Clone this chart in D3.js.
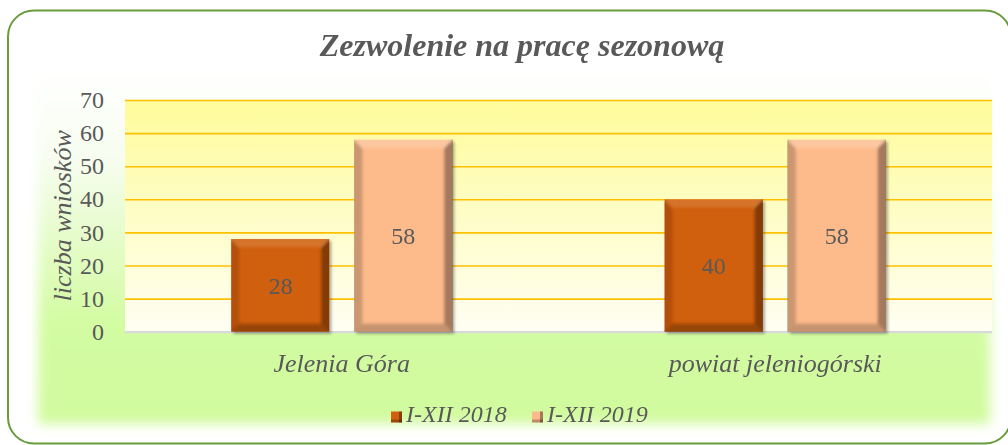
<!DOCTYPE html>
<html><head><meta charset="utf-8">
<script src="https://cdn.jsdelivr.net/npm/d3@7/dist/d3.min.js"></script>
<style>
html,body{margin:0;padding:0;background:#fff;}
svg{display:block;}
svg text{font-family:"Liberation Serif","Times New Roman","DejaVu Serif",serif !important;fill:#595959;}
</style></head>
<body>
<svg id="chart" width="1008" height="445" font-family="Liberation Serif, Times New Roman, DejaVu Serif, serif"></svg>
<script>
const categories = ["Jelenia Góra", "powiat jeleniogórski"];
const seriesNames = ["I-XII 2018", "I-XII 2019"];
const values2018 = [28, 40];
const values2019 = [58, 58];
const yTicks = [0, 10, 20, 30, 40, 50, 60, 70];
const title = "Zezwolenie na pracę sezonową";
const yTitle = "liczba wniosków";

const series = [values2018, values2019];
const barColors = ["#d0600f", "#fdbb8b"];
const FONT = "'Liberation Serif', 'Times New Roman', 'DejaVu Serif', serif";

const plot = {left: 125, right: 992, top: 100, bottom: 331.7};
const svg = d3.select("#chart");
const defs = svg.append("defs");

const gPlot = defs.append("linearGradient").attr("id","gPlot").attr("x1",0).attr("y1",0).attr("x2",0).attr("y2",1);
gPlot.append("stop").attr("offset","0%").attr("stop-color","#fefc9a");
gPlot.append("stop").attr("offset","100%").attr("stop-color","#fffef3");

const gArea = defs.append("linearGradient").attr("id","gArea").attr("x1",0).attr("y1",0).attr("x2",0).attr("y2",1);
gArea.append("stop").attr("offset","0%").attr("stop-color","#ffffff");
gArea.append("stop").attr("offset","25%").attr("stop-color","#f7fdf0");
gArea.append("stop").attr("offset","72%").attr("stop-color","#d3fca2");
gArea.append("stop").attr("offset","100%").attr("stop-color","#d1fb9e");

const blur = defs.append("filter").attr("id","soft").attr("x","-10%").attr("y","-10%").attr("width","120%").attr("height","120%");
blur.append("feGaussianBlur").attr("stdDeviation",6);

const bevBlur = defs.append("filter").attr("id","bevBlur").attr("x","-20%").attr("y","-20%").attr("width","140%").attr("height","140%");
bevBlur.append("feGaussianBlur").attr("stdDeviation",1.6);

const shadow = defs.append("filter").attr("id","shadow").attr("x","-20%").attr("y","-20%").attr("width","140%").attr("height","140%");
shadow.append("feGaussianBlur").attr("in","SourceAlpha").attr("stdDeviation",1.5).attr("result","b");
shadow.append("feOffset").attr("in","b").attr("dx",1.5).attr("dy",1.5).attr("result","o");
shadow.append("feComponentTransfer").attr("in","o").attr("result","s").append("feFuncA").attr("type","linear").attr("slope",0.35);
const fm = shadow.append("feMerge");
fm.append("feMergeNode").attr("in","s");
fm.append("feMergeNode").attr("in","SourceGraphic");

svg.append("rect").attr("x",38).attr("y",68).attr("width",952).attr("height",356)
  .attr("fill","url(#gArea)").attr("filter","url(#soft)");

svg.append("rect").attr("x",8).attr("y",10.5).attr("width",1003).attr("height",433)
  .attr("rx",26).attr("ry",26).attr("fill","none").attr("stroke","#6a9b3c").attr("stroke-width",2);

const x0 = d3.scaleBand().domain(categories).range([plot.left, plot.right]).padding(0);
const y = d3.scaleLinear().domain([0, 70]).range([plot.bottom, plot.top]);
const bw = x0.bandwidth();
const barW = bw * 0.2262, gap = bw * 0.0577;
const groupW = 2 * barW + gap;
const x1 = d3.scaleOrdinal().domain([0,1]).range([(bw - groupW)/2, (bw - groupW)/2 + barW + gap]);

svg.append("rect").attr("x",plot.left).attr("y",plot.top).attr("width",plot.right-plot.left).attr("height",plot.bottom-plot.top)
  .attr("fill","url(#gPlot)");

const yAxisG = svg.append("g").attr("transform",`translate(${plot.left},0)`)
  .call(d3.axisLeft(y).tickValues(yTicks).tickSize(-(plot.right-plot.left)).tickPadding(21).tickFormat(d3.format("d")));
yAxisG.attr("font-family", FONT);
yAxisG.select(".domain").remove();
yAxisG.selectAll(".tick line").attr("stroke","#ffc000").attr("stroke-width",1.6)
  .filter(d => d === 0).remove();
yAxisG.selectAll(".tick text").attr("font-size",24).attr("fill","#595959").attr("font-family", FONT);

svg.append("line").attr("x1",plot.left).attr("x2",plot.right).attr("y1",y(0)+0.5).attr("y2",y(0)+0.5)
  .attr("stroke","#d9d9d9").attr("stroke-width",2.2);

const barData = [];
categories.forEach((c, ci) => series.forEach((s, si) => barData.push({c, si, v: s[ci]})));

const bars = svg.append("g").selectAll("g.bar").data(barData).join("g").attr("class","bar");
bars.each(function(d, i){
  const g = d3.select(this);
  const bx = x0(d.c) + x1(d.si), by = y(d.v), bh = y(0) - y(d.v), w = barW;
  const clipId = "clip" + i;
  defs.append("clipPath").attr("id", clipId).append("rect").attr("x",bx).attr("y",by).attr("width",w).attr("height",bh);
  g.append("rect").attr("x",bx).attr("y",by).attr("width",w).attr("height",bh).attr("fill",barColors[d.si]).attr("filter","url(#shadow)");
  const b = 8;
  const inner = g.append("g").attr("clip-path",`url(#${clipId})`);
  const bev = inner.append("g").attr("filter","url(#bevBlur)");
  const P = pts => pts.map(p => p.join(",")).join(" ");
  const dark = d.si === 0 ? "#3a1400" : "#4a3a30";
  bev.append("polygon").attr("points",P([[bx-3,by-3],[bx+w+3,by-3],[bx+w-b,by+b],[bx+b,by+b]]))
    .attr("fill","#ffffff").attr("opacity", d.si===0?0.12:0.18);
  bev.append("polygon").attr("points",P([[bx-3,by-3],[bx+b,by+b],[bx+b,by+bh-b],[bx-3,by+bh+3]]))
    .attr("fill",dark).attr("opacity", d.si===0?0.18:0.28);
  bev.append("polygon").attr("points",P([[bx+w+3,by-3],[bx+w-b,by+b],[bx+w-b,by+bh-b],[bx+w+3,by+bh+3]]))
    .attr("fill",dark).attr("opacity", 0.5);
  bev.append("polygon").attr("points",P([[bx-3,by+bh+3],[bx+b,by+bh-b],[bx+w-b,by+bh-b],[bx+w+3,by+bh+3]]))
    .attr("fill",dark).attr("opacity", d.si===0?0.38:0.3);
  g.append("text").attr("x",bx + w/2).attr("y",by + bh/2).attr("dy","0.35em").attr("font-family", FONT)
    .attr("text-anchor","middle").attr("font-size",24).attr("fill","#404040").text(d.v);
});

svg.append("g").selectAll("text").data(categories).join("text")
  .attr("x", d => x0(d) + bw/2).attr("y", 372).attr("font-family", FONT)
  .attr("text-anchor","middle").attr("font-size",26).attr("font-style","italic").text(d => d);

svg.append("text").attr("x",522).attr("y",56).attr("text-anchor","middle").attr("font-family", FONT)
  .attr("font-size",32).attr("font-weight","bold").attr("font-style","italic").attr("fill","#595959").text(title);

svg.append("text").attr("transform",`translate(71,${(plot.top+plot.bottom)/2}) rotate(-90)`).attr("font-family", FONT)
  .attr("text-anchor","middle").attr("font-size",26).attr("font-style","italic").text(yTitle);

const legendX = [391, 532];
const legend = svg.append("g").selectAll("g").data(seriesNames).join("g")
  .attr("transform",(d,i)=>`translate(${legendX[i]},411)`);
legend.each(function(d, i){
  const g = d3.select(this);
  const s = 11;
  g.append("rect").attr("x",0).attr("y",0.5).attr("width",s).attr("height",s).attr("fill",barColors[i]);
  g.append("rect").attr("x",s-3).attr("y",0.5).attr("width",3).attr("height",s).attr("fill","#000").attr("opacity",0.35);
  g.append("rect").attr("x",0).attr("y",s-2.5).attr("width",s).attr("height",3).attr("fill","#000").attr("opacity",0.25);
  g.append("text").attr("x",15).attr("y",11).attr("font-family", FONT).attr("font-size",24).attr("font-style","italic").text(d);
});
</script>
</body></html>
